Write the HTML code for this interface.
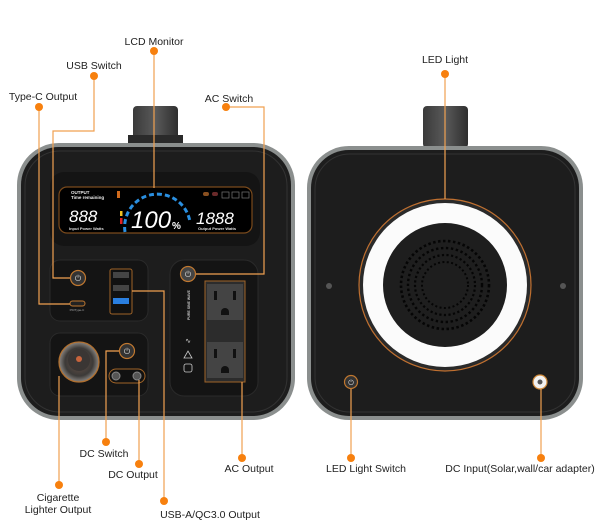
<!DOCTYPE html>
<html><head><meta charset="utf-8"><style>
html,body{margin:0;padding:0;background:#fff;}
svg{display:block;}
text{font-family:"Liberation Sans",sans-serif;}
</style></head><body>
<svg width="600" height="532" viewBox="0 0 600 532" xmlns="http://www.w3.org/2000/svg">
<defs>
<linearGradient id="hd" x1="0" x2="1"><stop offset="0" stop-color="#3a3a3a"/><stop offset=".5" stop-color="#5a5a5a"/><stop offset="1" stop-color="#2e2e2e"/></linearGradient>
<radialGradient id="cig"><stop offset="0" stop-color="#c8643c"/><stop offset=".25" stop-color="#5a4a42"/><stop offset=".7" stop-color="#3c3a38"/><stop offset="1" stop-color="#8a8682"/></radialGradient>
</defs>
<rect width="600" height="532" fill="#fff"/>

<!-- LEFT UNIT -->
<rect x="133" y="106" width="45" height="42" rx="4" fill="url(#hd)"/>
<rect x="128" y="135" width="55" height="14" fill="#2a2a2a"/>
<rect x="17" y="143" width="278" height="277" rx="42" fill="#8b8f8e"/>
<rect x="21" y="147" width="270" height="269" rx="38" fill="#1d1d1d"/>
<rect x="25" y="151" width="262" height="261" rx="35" fill="none" stroke="#333" stroke-width="1"/>
<rect x="50" y="172" width="210" height="74" rx="14" fill="#141414"/>
<!-- LCD -->
<rect x="59" y="187" width="193" height="46" rx="8" fill="#000" stroke="#7a4a1c" stroke-width="1.2"/>
<text x="71" y="194" font-size="4.5" fill="#eee" font-weight="bold">OUTPUT</text>
<text x="71" y="199" font-size="4.5" fill="#eee" font-weight="bold">Time remaining</text>
<text x="69" y="222" font-size="17" fill="#fff" font-style="italic" font-family="Liberation Mono">888</text>
<text x="69" y="230" font-size="4" fill="#ddd" font-weight="bold">Input Power   Watts</text>
<path d="M125 232 A32 32 0 0 1 190 222" fill="none" stroke="#2a8fe0" stroke-width="3" stroke-dasharray="5 3"/>
<rect x="120" y="211" width="2.5" height="5" fill="#f0c020"/>
<rect x="120" y="218" width="2.5" height="6" fill="#e02020"/>
<text x="131" y="228" font-size="24" fill="#fff" font-style="italic" font-family="Liberation Mono">100</text>
<text x="172" y="229" font-size="10" fill="#fff" font-weight="bold">%</text>
<text x="196" y="224" font-size="17" fill="#fff" font-style="italic" font-family="Liberation Mono">1888</text>
<text x="198" y="230" font-size="4" fill="#ddd" font-weight="bold">Output Power Watts</text>
<rect x="117" y="191" width="3" height="7" fill="#d06a1c"/>
<rect x="203" y="192" width="6" height="4" rx="2" fill="#8a5020"/><rect x="212" y="192" width="6" height="4" rx="2" fill="#6a2a2a"/>
<rect x="222" y="192" width="7" height="6" fill="none" stroke="#777" stroke-width=".7"/><rect x="232" y="192" width="7" height="6" fill="none" stroke="#777" stroke-width=".7"/><rect x="242" y="192" width="7" height="6" fill="none" stroke="#777" stroke-width=".7"/>
<!-- USB panel -->
<rect x="50" y="260" width="98" height="61" rx="10" fill="#141414" stroke="#2a2a2a"/>
<circle cx="78" cy="278" r="7.5" fill="#333" stroke="#c07830" stroke-width="1.2"/>
<text x="78" y="281" font-size="8" fill="#ddd" text-anchor="middle">⏻</text>
<rect x="70" y="301" width="15" height="5" rx="2.5" fill="#222" stroke="#c07830" stroke-width="1"/>
<text x="77" y="311" font-size="3" fill="#aaa" text-anchor="middle">PD/Type-C</text>
<rect x="110" y="269" width="22" height="45" rx="2" fill="#111" stroke="#a06428" stroke-width="1"/>
<rect x="113" y="272" width="16" height="6" fill="#444"/><rect x="113" y="285" width="16" height="6" fill="#444"/><rect x="113" y="298" width="16" height="6" fill="#2a7fe0"/>
<!-- Lower left panel -->
<rect x="50" y="333" width="98" height="63" rx="10" fill="#141414" stroke="#2a2a2a"/>
<circle cx="79" cy="362" r="20" fill="url(#cig)" stroke="#b07030" stroke-width="1.3"/>
<circle cx="79" cy="360" r="11" fill="#3a3634"/>
<circle cx="79" cy="359" r="3" fill="#c8643c"/>
<circle cx="127" cy="351" r="7.5" fill="#333" stroke="#c07830" stroke-width="1.2"/>
<text x="127" y="354" font-size="8" fill="#ddd" text-anchor="middle">⏻</text>
<rect x="109" y="369" width="36" height="14" rx="7" fill="#111" stroke="#a06428" stroke-width="1"/>
<circle cx="116" cy="376" r="4" fill="#555" stroke="#888"/><circle cx="137" cy="376" r="4" fill="#555" stroke="#888"/>
<!-- AC panel -->
<rect x="170" y="260" width="88" height="136" rx="14" fill="#141414" stroke="#2a2a2a"/>
<circle cx="188" cy="274" r="7.5" fill="#444" stroke="#c07830" stroke-width="1.2"/>
<text x="188" y="277" font-size="8" fill="#ddd" text-anchor="middle">⏻</text>
<text x="0" y="0" font-size="3.5" fill="#ccc" font-weight="bold" transform="translate(190,320) rotate(-90)">PURE SINE WAVE</text>
<text x="188" y="343" font-size="7" fill="#ccc" text-anchor="middle">∿</text>
<path d="M184 358 L188 351 L192 358 Z" fill="none" stroke="#ccc" stroke-width=".8"/>
<rect x="184" y="364" width="8" height="8" rx="2" fill="none" stroke="#ccc" stroke-width=".8"/>
<rect x="205" y="281" width="40" height="101" fill="#2c2c2c" stroke="#a06428" stroke-width="1"/>
<rect x="207" y="284" width="36" height="36" fill="#444"/><rect x="207" y="342" width="36" height="36" fill="#444"/>
<rect x="214" y="291" width="3" height="9" fill="#111"/><rect x="233" y="291" width="3" height="9" fill="#111"/><path d="M221 312 a4 4 0 0 1 8 0 v3 h-8z" fill="#111"/>
<rect x="214" y="349" width="3" height="9" fill="#111"/><rect x="233" y="349" width="3" height="9" fill="#111"/><path d="M221 370 a4 4 0 0 1 8 0 v3 h-8z" fill="#111"/>

<!-- RIGHT UNIT -->
<rect x="423" y="106" width="45" height="42" rx="4" fill="url(#hd)"/>
<rect x="307" y="146" width="276" height="274" rx="42" fill="#8b8f8e"/>
<rect x="311" y="150" width="268" height="266" rx="38" fill="#1d1d1d"/>
<rect x="315" y="154" width="260" height="258" rx="35" fill="none" stroke="#333" stroke-width="1"/>
<circle cx="445" cy="285" r="86" fill="#2a2a2a" stroke="#c07030" stroke-width="1.2"/>
<circle cx="445" cy="285" r="82" fill="#fbfbfb"/>
<circle cx="445" cy="285" r="62" fill="#1e1e1e"/>
<circle cx="445" cy="285" r="44" fill="none" stroke="#050505" stroke-width="2.6" stroke-dasharray="2.5 2.5"/>
<circle cx="445" cy="285" r="37" fill="none" stroke="#050505" stroke-width="2.4" stroke-dasharray="2.4 2.6"/>
<circle cx="445" cy="285" r="30" fill="none" stroke="#050505" stroke-width="2.2" stroke-dasharray="2.2 2.4"/>
<circle cx="445" cy="285" r="23" fill="none" stroke="#050505" stroke-width="2" stroke-dasharray="2 2.4"/>
<circle cx="329" cy="286" r="3" fill="#555"/><circle cx="563" cy="286" r="3" fill="#555"/>
<circle cx="351" cy="382" r="6.5" fill="#333" stroke="#c07830" stroke-width="1.2"/>
<text x="351" y="385" font-size="7" fill="#ddd" text-anchor="middle">⏻</text>
<circle cx="540" cy="382" r="7" fill="#f2f2f2" stroke="#d08a3a" stroke-width="1.2"/>
<circle cx="540" cy="382" r="2.5" fill="#555"/>

<!-- LEADERS -->
<g fill="none" stroke="#f0a050" stroke-width="1.2">
<path d="M154 51 V188"/>
<path d="M94 76 V131 H53 V278 H70"/>
<path d="M39 107 V304 H70"/>
<path d="M226 107 H264 V274 H196"/>
<path d="M445 74 V199"/>
<path d="M59 485 V376"/>
<path d="M106 442 V351 H119"/>
<path d="M139 464 V380"/>
<path d="M164 501 V291 H132"/>
<path d="M242 458 V382"/>
<path d="M351 458 V389"/>
<path d="M541 458 V389"/>
</g>
<g fill="#f7800e">
<circle cx="154" cy="51" r="4"/><circle cx="94" cy="76" r="4"/><circle cx="39" cy="107" r="4"/><circle cx="226" cy="107" r="4"/><circle cx="445" cy="74" r="4"/>
<circle cx="59" cy="485" r="4"/><circle cx="106" cy="442" r="4"/><circle cx="139" cy="464" r="4"/><circle cx="164" cy="501" r="4"/><circle cx="242" cy="458" r="4"/><circle cx="351" cy="458" r="4"/><circle cx="541" cy="458" r="4"/>
</g>
<g font-size="10.5" fill="#222">
<text x="154" y="45" text-anchor="middle">LCD Monitor</text>
<text x="94" y="69" text-anchor="middle">USB Switch</text>
<text x="43" y="100" text-anchor="middle">Type-C Output</text>
<text x="229" y="102" text-anchor="middle">AC Switch</text>
<text x="445" y="63" text-anchor="middle">LED Light</text>
<text x="58" y="501" text-anchor="middle">Cigarette</text>
<text x="58" y="513" text-anchor="middle">Lighter Output</text>
<text x="104" y="457" text-anchor="middle">DC Switch</text>
<text x="133" y="478" text-anchor="middle">DC Output</text>
<text x="210" y="518" text-anchor="middle">USB-A/QC3.0 Output</text>
<text x="249" y="472" text-anchor="middle">AC Output</text>
<text x="366" y="472" text-anchor="middle">LED Light Switch</text>
<text x="520" y="472" text-anchor="middle">DC Input(Solar,wall/car adapter)</text>
</g>
</svg>
</body></html>
